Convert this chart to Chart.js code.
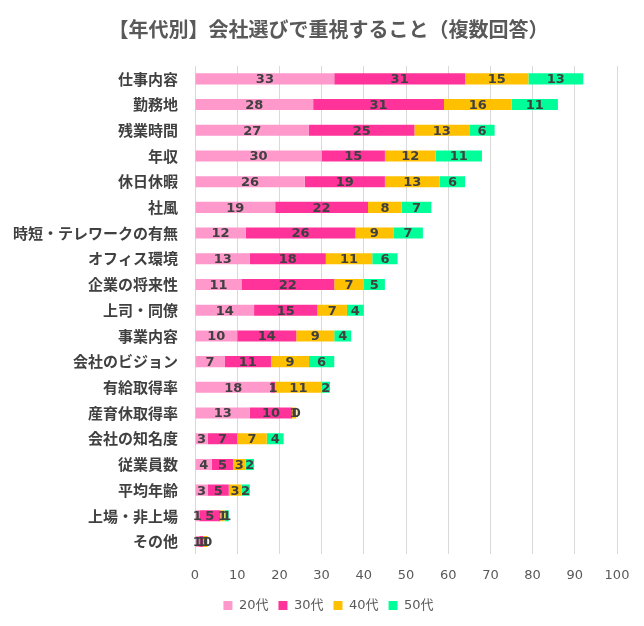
<!DOCTYPE html>
<html>
<head>
<meta charset="utf-8">
<script src="https://cdn.jsdelivr.net/npm/chart.js@4"></script>
<style>
  html, body { margin: 0; padding: 0; background: #fff; }
  #wrap { width: 644px; height: 626px; }
</style>
</head>
<body>
<div id="wrap"><canvas id="companyChart" width="644" height="626"></canvas></div>
<script>
const categories = ['仕事内容', '勤務地', '残業時間', '年収', '休日休暇', '社風', '時短・テレワークの有無',
    'オフィス環境', '企業の将来性', '上司・同僚', '事業内容', '会社のビジョン', '有給取得率',
    '産育休取得率', '会社の知名度', '従業員数', '平均年齢', '上場・非上場', 'その他'];
const age20 = [33, 28, 27, 30, 26, 19, 12, 13, 11, 14, 10, 7, 18, 13, 3, 4, 3, 1, 1];
const age30 = [31, 31, 25, 15, 19, 22, 26, 18, 22, 15, 14, 11, 1, 10, 7, 5, 5, 5, 1];
const age40 = [15, 16, 13, 12, 13, 8, 9, 11, 7, 7, 9, 9, 11, 1, 7, 3, 3, 1, 1];
const age50 = [13, 11, 6, 11, 6, 7, 7, 6, 5, 4, 4, 6, 2, 0, 4, 2, 2, 1, 0];
const seriesNames = ['20代', '30代', '40代', '50代'];
const seriesColors = ['#FF99CC', '#FF3399', '#FFC000', '#00FF99'];

const fontFamily = '"DejaVu Sans", "Noto Sans CJK JP", sans-serif';
const cjkFont = '"Noto Sans CJK JP", sans-serif';

// draw the value of each segment in its middle
const segmentLabels = {
    id: 'segmentLabels',
    afterDatasetsDraw(chart) {
        const ctx = chart.ctx;
        ctx.save();
        ctx.font = 'bold 13px ' + fontFamily;
        ctx.fillStyle = '#404040';
        ctx.textAlign = 'center';
        ctx.textBaseline = 'middle';
        chart.data.datasets.forEach((ds, i) => {
            const meta = chart.getDatasetMeta(i);
            meta.data.forEach((bar, j) => {
                const cx = (bar.x + bar.base) / 2;
                ctx.fillText(String(ds.data[j]), cx, bar.y + 1);
            });
        });
        ctx.restore();
    }
};

// nudge title and legend to where the original sits
const nudgeBoxes = {
    id: 'nudgeBoxes',
    afterLayout(chart) {
        const lg = chart.legend;
        lg.left += 20; lg.right += 20;
        lg.top -= 7; lg.bottom -= 7;
        const tb = chart.titleBlock;
        tb.left += 20; tb.right += 20;
    }
};

const datasets = [age20, age30, age40, age50].map((vals, i) => ({
    label: seriesNames[i],
    data: vals,
    backgroundColor: seriesColors[i],
    borderWidth: 0,
    barPercentage: 1,
    categoryPercentage: 0.43
}));

new Chart(document.getElementById('companyChart').getContext('2d'), {
    type: 'bar',
    data: { labels: categories, datasets: datasets },
    plugins: [segmentLabels, nudgeBoxes],
    options: {
        indexAxis: 'y',
        responsive: false,
        animation: false,
        layout: { padding: { left: 0, right: 27, top: 4, bottom: -3 } },
        scales: {
            x: {
                stacked: true,
                min: 0,
                max: 100,
                ticks: { stepSize: 10, color: '#595959', font: { size: 13, family: fontFamily }, padding: 13 },
                grid: { color: '#d9d9d9', drawTicks: false },
                border: { display: false }
            },
            y: {
                stacked: true,
                afterFit(scale) { scale.width = 195; },
                ticks: { color: '#404040', font: { size: 15, weight: 'bold', family: cjkFont }, padding: 9 },
                grid: { display: false },
                border: { display: false }
            }
        },
        plugins: {
            title: {
                display: true,
                text: '【年代別】会社選びで重視すること（複数回答）',
                color: '#595959',
                font: { size: 20, weight: 'bold', family: cjkFont },
                padding: { top: 13, bottom: 25 }
            },
            legend: {
                position: 'bottom',
                labels: {
                    boxWidth: 9,
                    boxHeight: 9,
                    padding: 10,
                    color: '#595959',
                    font: { size: 13, family: fontFamily }
                }
            },
            tooltip: { enabled: false }
        }
    }
});
</script>
</body>
</html>
